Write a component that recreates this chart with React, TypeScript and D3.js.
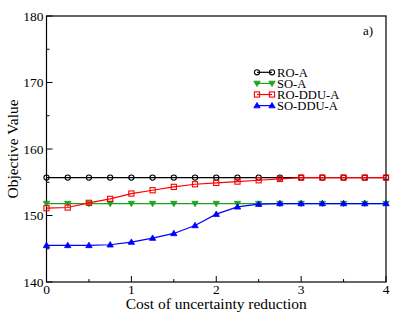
import React, { useEffect, useRef } from 'react';
import * as d3 from 'd3';

// cost of uncertainty reduction (x values)
const costs = [0, 0.25, 0.5, 0.75, 1, 1.25, 1.5, 1.75, 2, 2.25, 2.5, 2.75, 3, 3.25, 3.5, 3.75, 4];

const roA = [155.7, 155.7, 155.7, 155.7, 155.7, 155.7, 155.7, 155.7, 155.7, 155.7, 155.7, 155.7, 155.7, 155.7, 155.7, 155.7, 155.7];
const soA = [151.8, 151.8, 151.8, 151.8, 151.8, 151.8, 151.8, 151.8, 151.8, 151.8, 151.8, 151.8, 151.8, 151.8, 151.8, 151.8, 151.8];
const roDduA = [151.1, 151.2, 151.9, 152.5, 153.3, 153.8, 154.3, 154.7, 154.9, 155.1, 155.3, 155.5, 155.7, 155.7, 155.7, 155.7, 155.7];
const soDduA = [145.5, 145.5, 145.5, 145.6, 146.0, 146.6, 147.3, 148.5, 150.2, 151.3, 151.7, 151.8, 151.8, 151.8, 151.8, 151.8, 151.8];

const seriesNames = ['RO-A', 'SO-A', 'RO-DDU-A', 'SO-DDU-A'];
const seriesValues = [roA, soA, roDduA, soDduA];
const seriesColors = ['#000000', '#1fa31f', '#ff0000', '#0000ff'];
const seriesSymbols = ['circle', 'triDown', 'square', 'triUp'];

const xTicks = [0, 1, 2, 3, 4];
const yTicks = [140, 150, 160, 170, 180];

const W = 409;
const H = 316;
const FONT = '"Liberation Serif", "Times New Roman", serif';

const drawSymbol = (g, kind, x, y, color) => {
  if (kind === 'circle') {
    g.append('circle').attr('cx', x).attr('cy', y).attr('r', 2.6)
      .attr('fill', 'none').attr('stroke', color).attr('stroke-width', 1.1);
  } else if (kind === 'square') {
    g.append('rect').attr('x', x - 2.6).attr('y', y - 2.6).attr('width', 5.2).attr('height', 5.2)
      .attr('fill', 'none').attr('stroke', color).attr('stroke-width', 1.1);
  } else {
    const s = 3.2;
    const pts = kind === 'triUp'
      ? [[x, y - s], [x - s, y + s * 0.7], [x + s, y + s * 0.7]]
      : [[x, y + s], [x - s, y - s * 0.7], [x + s, y - s * 0.7]];
    g.append('path').attr('d', 'M' + pts.map((p) => p.join(',')).join('L') + 'Z')
      .attr('fill', color).attr('stroke', color).attr('stroke-width', 0.8);
  }
};

const Chart = () => {
  const ref = useRef(null);

  useEffect(() => {
    const svg = d3.select(ref.current);
    svg.selectAll('*').remove();

    const margin = { top: 16, right: 23, bottom: 34, left: 46.5 };
    const x = d3.scaleLinear().domain([0, 4]).range([margin.left, W - margin.right]);
    const y = d3.scaleLinear().domain([140, 180]).range([H - margin.bottom, margin.top]);

    // frame
    svg.append('rect')
      .attr('x', x(0)).attr('y', y(180))
      .attr('width', x(4) - x(0)).attr('height', y(140) - y(180))
      .attr('fill', 'none').attr('stroke', '#000').attr('stroke-width', 1.2);

    // ticks (inside)
    const tk = svg.append('g').attr('stroke', '#000').attr('stroke-width', 1);
    d3.range(0, 4.01, 0.5).forEach((v) => {
      const major = xTicks.includes(v);
      tk.append('line').attr('x1', x(v)).attr('x2', x(v))
        .attr('y1', y(140)).attr('y2', y(140) - (major ? 6 : 3));
    });
    d3.range(140, 180.1, 5).forEach((v) => {
      const major = yTicks.includes(v);
      tk.append('line').attr('x1', x(0)).attr('x2', x(0) + (major ? 6 : 3))
        .attr('y1', y(v)).attr('y2', y(v));
    });

    const txt = svg.append('g').attr('font-family', FONT).attr('fill', '#000');
    xTicks.forEach((v) => {
      txt.append('text').attr('x', x(v)).attr('y', y(140) + 12).attr('font-size', 13.5)
        .attr('text-anchor', 'middle').text(v);
    });
    yTicks.forEach((v) => {
      txt.append('text').attr('x', x(0) - 3).attr('y', y(v) + 4.5).attr('font-size', 13.5)
        .attr('text-anchor', 'end').text(v);
    });

    txt.append('text').attr('x', (x(0) + x(4)) / 2).attr('y', 309)
      .attr('font-size', 15.5).attr('text-anchor', 'middle').text('Cost of uncertainty reduction');
    txt.append('text')
      .attr('transform', `translate(18,${(y(140) + y(180)) / 2}) rotate(-90)`)
      .attr('font-size', 15.5).attr('text-anchor', 'middle').text('Objective Value');
    txt.append('text').attr('x', 363).attr('y', 35).attr('font-size', 13).text('a)');

    // series
    const line = d3.line().x((d) => x(d[0])).y((d) => y(d[1]));
    seriesValues.forEach((vals, i) => {
      const pts = costs.map((c, j) => [c, vals[j]]);
      const g = svg.append('g');
      g.append('path').attr('d', line(pts)).attr('fill', 'none')
        .attr('stroke', seriesColors[i]).attr('stroke-width', 1.2);
      pts.forEach((p) => drawSymbol(g, seriesSymbols[i], x(p[0]), y(p[1]), seriesColors[i]));
    });

    // legend
    const lg = svg.append('g');
    seriesNames.forEach((name, i) => {
      const cy = 72.3 + i * 11.1;
      lg.append('line').attr('x1', 257).attr('x2', 272).attr('y1', cy).attr('y2', cy)
        .attr('stroke', seriesColors[i]).attr('stroke-width', 1.2);
      drawSymbol(lg, seriesSymbols[i], 257, cy, seriesColors[i]);
      drawSymbol(lg, seriesSymbols[i], 272, cy, seriesColors[i]);
      lg.append('text').attr('x', 277).attr('y', cy + 4.3).attr('font-family', FONT)
        .attr('font-size', 12.6).text(name);
    });
  }, []);

  return <svg ref={ref} width={W} height={H} style={{ position: 'absolute', left: 0, top: 0, background: '#fff' }} />;
};

export default function App() {
  return <Chart />;
}
